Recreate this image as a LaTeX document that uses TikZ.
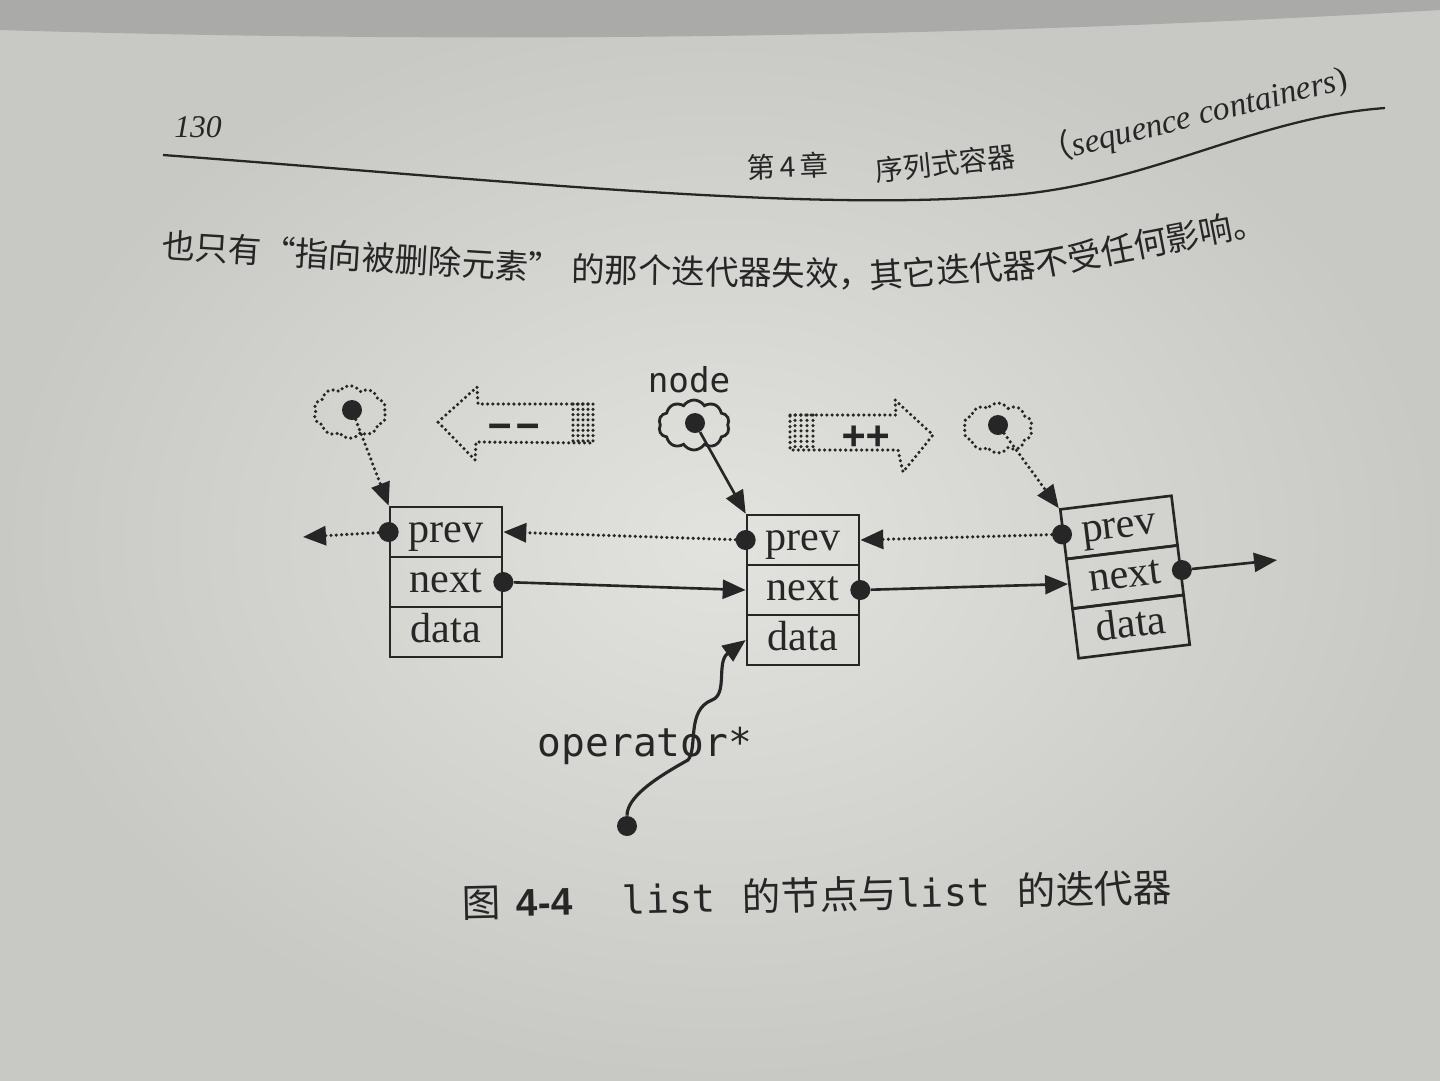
\documentclass[tikz,border=0pt]{standalone}
\usepackage{fontspec}
\setmainfont{Liberation Serif}
\newfontfamily\cjk{Noto Sans CJK SC}
\newfontfamily\mono{DejaVu Sans Mono}
\newfontfamily\capsans{Liberation Sans}
\usetikzlibrary{arrows.meta,shapes.symbols,calc}
\definecolor{paperin}{RGB}{226,226,223}
\definecolor{paperout}{RGB}{200,200,197}
\definecolor{ink}{RGB}{38,38,38}
\definecolor{edge}{RGB}{170,170,168}
\begin{document}
\begin{tikzpicture}[x=0.02cm,y=-0.02cm,
  dotline/.style={draw=ink,line width=2pt,dash pattern=on 0pt off 3pt,line cap=round},
  solidline/.style={draw=ink,line width=1.5pt},
  tip/.style={-{Triangle[length=0.46cm,width=0.38cm]}},
  dotmark/.style={circle,fill=ink,inner sep=0pt,minimum size=0.4cm},
  cell/.style={draw=ink,line width=1.5pt,rectangle,minimum width=2.24cm,minimum height=1cm,
    inner sep=0pt,text height=17pt,text depth=5pt,text=ink,font=\fontsize{24}{24}\selectfont},
  cloudbox/.style={cloud,cloud puffs=10,cloud puff arc=115,aspect=1.35,inner sep=0pt,
    minimum width=1.45cm,minimum height=1.05cm},
  bodytext/.style={text=ink,inner sep=0pt,font=\cjk\fontsize{19}{19}\selectfont},
  headtext/.style={text=ink,inner sep=0pt,font=\cjk\fontsize{16}{16}\selectfont},
  monolabel/.style={text=ink,inner sep=0pt,font=\mono\fontsize{22.5}{22.5}\selectfont}
]
% page background
\useasboundingbox (0,0) rectangle (1440,1080);
\shade[inner color=paperin,outer color=paperout] (0,0) rectangle (1440,1080);
\fill[edge] (0,0) -- (1440,0) -- (1440,10) .. controls (1100,30) and (600,48) .. (0,30) -- cycle;

% header
\node[text=ink,inner sep=0pt,font=\itshape\fontsize{18}{18}\selectfont] (pg) at (198,127) {130};
\draw[draw=ink,line width=1.3pt] (163,155) .. controls (500,180) and (800,212) .. (1000,196)
  .. controls (1150,186) and (1250,118) .. (1385,108);
\node[headtext,rotate=2] (ch) at (788,166) {第\,4\,章};
\node[headtext,rotate=6] (ct) at (945,163) {序列式容器};
\node[text=ink,inner sep=0pt,rotate=14,font=\fontsize{19}{19}\selectfont] (ce) at (1193,116)
  {{\cjk （}\textit{sequence containers})};

% body line
\node[bodytext,rotate=-3.5] (s1) at (362,257) {也只有“指向被删除元素”};
\node[bodytext,rotate=-1] (s2) at (722,272) {的那个迭代器失效，};
\node[bodytext,rotate=4] (s3) at (953,270) {其它迭代器};
\node[bodytext,rotate=11] (s4) at (1150,243) {不受任何影响。};

% list nodes
\node[cell] (b1p) at (446,532) {prev};
\node[cell] (b1n) at (446,582) {next};
\node[cell] (b1d) at (446,632) {data};
\node[cell] (b2p) at (803,540) {prev};
\node[cell] (b2n) at (803,590) {next};
\node[cell] (b2d) at (803,640) {data};
\begin{scope}[rotate around={7:(1125,577)}]
\node[cell,transform shape] (b3p) at (1125,527) {prev};
\node[cell,transform shape] (b3n) at (1125,577) {next};
\node[cell,transform shape] (b3d) at (1125,627) {data};
\end{scope}

% pointer dots on nodes
\node[dotmark] (b1pd) at (b1p.west) {};
\node[dotmark] (b1nd) at (b1n.east) {};
\node[dotmark] (b2pd) at (b2p.west) {};
\node[dotmark] (b2nd) at (b2n.east) {};
\node[dotmark] (b3pd) at (b3p.west) {};
\node[dotmark] (b3nd) at (b3n.east) {};
\coordinate (lend) at (303,537);
\coordinate (rend) at (1277,560);

% prev links (dotted)
\draw[dotline,tip] (b1pd) -- (lend);
\draw[dotline,tip] (b2pd) -- (b1p.east);
\draw[dotline,tip] (b3pd) -- (b2p.east);
% next links (solid)
\draw[solidline,tip] (b1nd) -- (b2n.west);
\draw[solidline,tip] (b2nd) -- (b3n.west);
\draw[solidline,tip] (b3nd) -- (rend);

% iterators (clouds)
\node[cloudbox,dotline] (c1) at (350,412) {};
\node[cloudbox,draw=ink,line width=1.6pt,minimum width=1.42cm,minimum height=1.0cm] (c2) at (694,425) {};
\node[cloudbox,dotline,minimum width=1.38cm,minimum height=1.0cm] (c3) at (998,428) {};
\node[monolabel,font=\mono\fontsize{19.5}{19.5}\selectfont] (nodelbl) at (689,380) {node};
\node[dotmark] (c1d) at (352,410) {};
\node[dotmark] (c2d) at (695,423) {};
\node[dotmark] (c3d) at (998,425) {};
\draw[dotline,tip] (c1d) -- (b1p.north west);
\draw[solidline,tip] (c2d) -- (b2p.north west);
\draw[dotline,tip] (c3d) -- (b3p.north west);

% fat arrows
\draw[dotline] (438,422) -- (477,387) -- (478,404) -- (593,404) -- (593,443) -- (476,442) -- (475,460) -- cycle;
\foreach \x in {573,578,583,588} \draw[dotline] (\x,404) -- (\x,443);
\node[text=ink,inner sep=0pt,font=\mono\bfseries\fontsize{22}{22}\selectfont] (minus) at (514,431) {−\hspace{0.12em}−};
\draw[dotline] (790,415) -- (896,415) -- (895,400) -- (933,435) -- (903,472) -- (898,450) -- (790,450) -- cycle;
\foreach \x in {795,801,807,813} \draw[dotline] (\x,415) -- (\x,450);
\node[text=ink,inner sep=0pt,font=\mono\bfseries\fontsize{22}{22}\selectfont] (plus) at (866,437) {++};

% operator*
\node[monolabel] (oplbl) at (645,746) {operator*};
\node[dotmark] (opd) at (627,826) {};
\draw[solidline,line width=1.8pt,tip] (opd) .. controls (627,798) and (652,780) .. (688,760)
  .. controls (698,748) and (686,710) .. (712,700)
  .. controls (728,694) and (716,662) .. (b2d.west);

% caption
\node[anchor=west,text=ink,inner sep=0pt,rotate=1.3,font=\cjk\fontsize{22}{22}\selectfont] (cap) at (462,903)
  {图\hspace{0.4em}{\capsans\bfseries 4-4}\hspace{1.3em}{\mono list}\hspace{0.7em}的节点与{\mono list}\hspace{0.7em}的迭代器};
\end{tikzpicture}
\end{document}
